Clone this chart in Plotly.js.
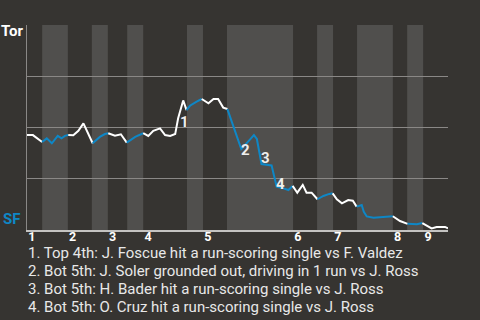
<!DOCTYPE html>
<html>
<head>
<meta charset="utf-8">
<script src="https://cdn.plot.ly/plotly-3.0.1.min.js"></script>
<style>
html,body{margin:0;padding:0;background:#363431;}
#chart{width:480px;height:320px;}
</style>
</head>
<body>
<div id="chart"></div>
<script>
// Game progress (0-100) and Toronto win probability (%)
const progress = [0,1.4,3.6,4.7,5.9,7.3,8.2,9.0,9.8,11.0,12.2,13.4,15.6,17.3,18.5,19.3,20.9,22.3,23.7,25.7,27.6,28.8,30.0,31.6,32.8,34.0,35.2,35.9,37.1,37.9,38.7,40.3,41.5,43.1,44.3,45.4,46.6,47.6,49.2,50.9,53.0,53.9,54.6,55.7,58.1,59.3,60.9,62.1,63.1,64.2,65.5,66.4,67.6,69.0,70.4,71.8,72.6,73.6,74.8,76.3,77.4,78.3,79.5,80.0,80.7,82.3,84.6,86.9,87.6,88.6,90.4,92.6,93.9,94.9,96.1,97.3,99.3,100];
const torWinProb = [46.3,46.3,42.9,44.7,42.3,45.9,44.7,45.9,46.3,46.2,48.4,52.0,42.3,45.4,46.8,47.2,46.0,46.7,42.6,45.4,47.2,45.9,48.4,49.6,46.3,45.9,46.8,54.5,63.2,58.5,60.6,62.6,63.9,61.8,63.9,63.9,59.7,59.0,49.8,39.5,44.2,46.3,44.4,32.2,31.5,21.1,20.3,19.5,21.5,18.2,22.0,18.2,18.2,15.0,16.6,17.6,17.9,15.0,13.0,14.6,14.3,11.4,12.2,8.9,6.6,6.0,6.2,6.7,5.7,4.4,3.0,2.8,3.4,2.1,0.8,1.5,1.5,0.8];
// Half-inning boundaries (game progress)
const halfBounds = [0,3.6,9.7,15.4,19.2,23.8,27.6,38.0,41.8,47.5,63.2,68.9,72.7,78.4,86.9,90.3,94.1,100];
const inningLabels = ['1','2','3','4','5','6','7','8','9'];
const eventLabels = ['1','2','3','4'];
const eventX = [37.5,51.8,56.7,60.3];
const eventY = [52.8,38.8,35.0,22.2];
const eventTexts = [
  '1. Top 4th: J. Foscue hit a run-scoring single vs F. Valdez',
  '2. Bot 5th: J. Soler grounded out, driving in 1 run vs J. Ross',
  '3. Bot 5th: H. Bader hit a run-scoring single vs J. Ross',
  '4. Bot 5th: O. Cruz hit a run-scoring single vs J. Ross'
];

const BG = '#363431', BAND = '#504f4d', BLUE = '#0e87c6', WHITE = '#ffffff';

const traces = [];
const shapes = [];
for (let h = 0; h < halfBounds.length - 1; h++) {
  const a = halfBounds[h], b = halfBounds[h+1];
  const isBottom = h % 2 === 1;
  if (isBottom) {
    shapes.push({type:'rect', xref:'x', yref:'paper', x0:a, x1:b, y0:0, y1:1,
      fillcolor:BAND, line:{width:0}, layer:'below'});
  }
  const xs = [], ys = [];
  for (let i = 0; i < progress.length; i++) {
    if (progress[i] >= a - 0.35 && progress[i] <= b + 0.35) { xs.push(progress[i]); ys.push(torWinProb[i]); }
  }
  traces.push({x:xs, y:ys, type:'scatter', mode:'lines', hoverinfo:'skip',
    line:{color: isBottom ? BLUE : WHITE, width:2}});
}

const tickvals = [];
for (let k = 0; k < inningLabels.length; k++) tickvals.push(halfBounds[2*k] + 1.15);

const annotations = [];
for (let i = 0; i < eventLabels.length; i++) {
  annotations.push({x:eventX[i], y:eventY[i], xref:'x', yref:'y', text:'<b>'+eventLabels[i]+'</b>',
    showarrow:false, font:{family:'Roboto', size:15, color:'#eeeeee'}});
}
annotations.push({xref:'paper', yref:'paper', x:0, y:0.97, xanchor:'right', xshift:-2, yanchor:'middle',
  text:'<b>Tor</b>', showarrow:false, font:{family:'Roboto', size:15, color:'#ffffff'}});
annotations.push({xref:'paper', yref:'paper', x:0, y:0.054, xanchor:'right', xshift:-5, yanchor:'middle',
  text:'<b>SF</b>', showarrow:false, font:{family:'Roboto', size:15, color:BLUE}});
for (let i = 0; i < eventTexts.length; i++) {
  annotations.push({xref:'paper', yref:'paper', x:0, xshift:-1, y:-0.114 - 0.088*i, xanchor:'left', yanchor:'middle',
    text:eventTexts[i], showarrow:false, font:{family:'Roboto', size:15, color:'#e8e8e8'}});
}

const layout = {
  width:480, height:320,
  margin:{l:27, r:32, t:25, b:90},
  paper_bgcolor:BG, plot_bgcolor:BG,
  showlegend:false,
  xaxis:{range:[0,100], showgrid:false, zeroline:false, tickvals:tickvals, ticktext:inningLabels.map(s=>'<b>'+s+'</b>'),
    ticks:'', ticklabelstandoff:-6, showline:true, linecolor:'#c4c3c1', linewidth:1.5,
    tickfont:{family:'Roboto', size:12.5, color:'#ffffff'}, fixedrange:true},
  yaxis:{range:[0,100], tickvals:[0,25,50,75,100], showticklabels:false, ticks:'',
    showgrid:true, gridcolor:'#8a8886', gridwidth:1, zeroline:false,
    showline:true, linecolor:'#8a8886', linewidth:1, fixedrange:true},
  shapes:shapes,
  annotations:annotations
};

Plotly.newPlot('chart', traces, layout, {displayModeBar:false, staticPlot:true});
</script>
</body>
</html>
